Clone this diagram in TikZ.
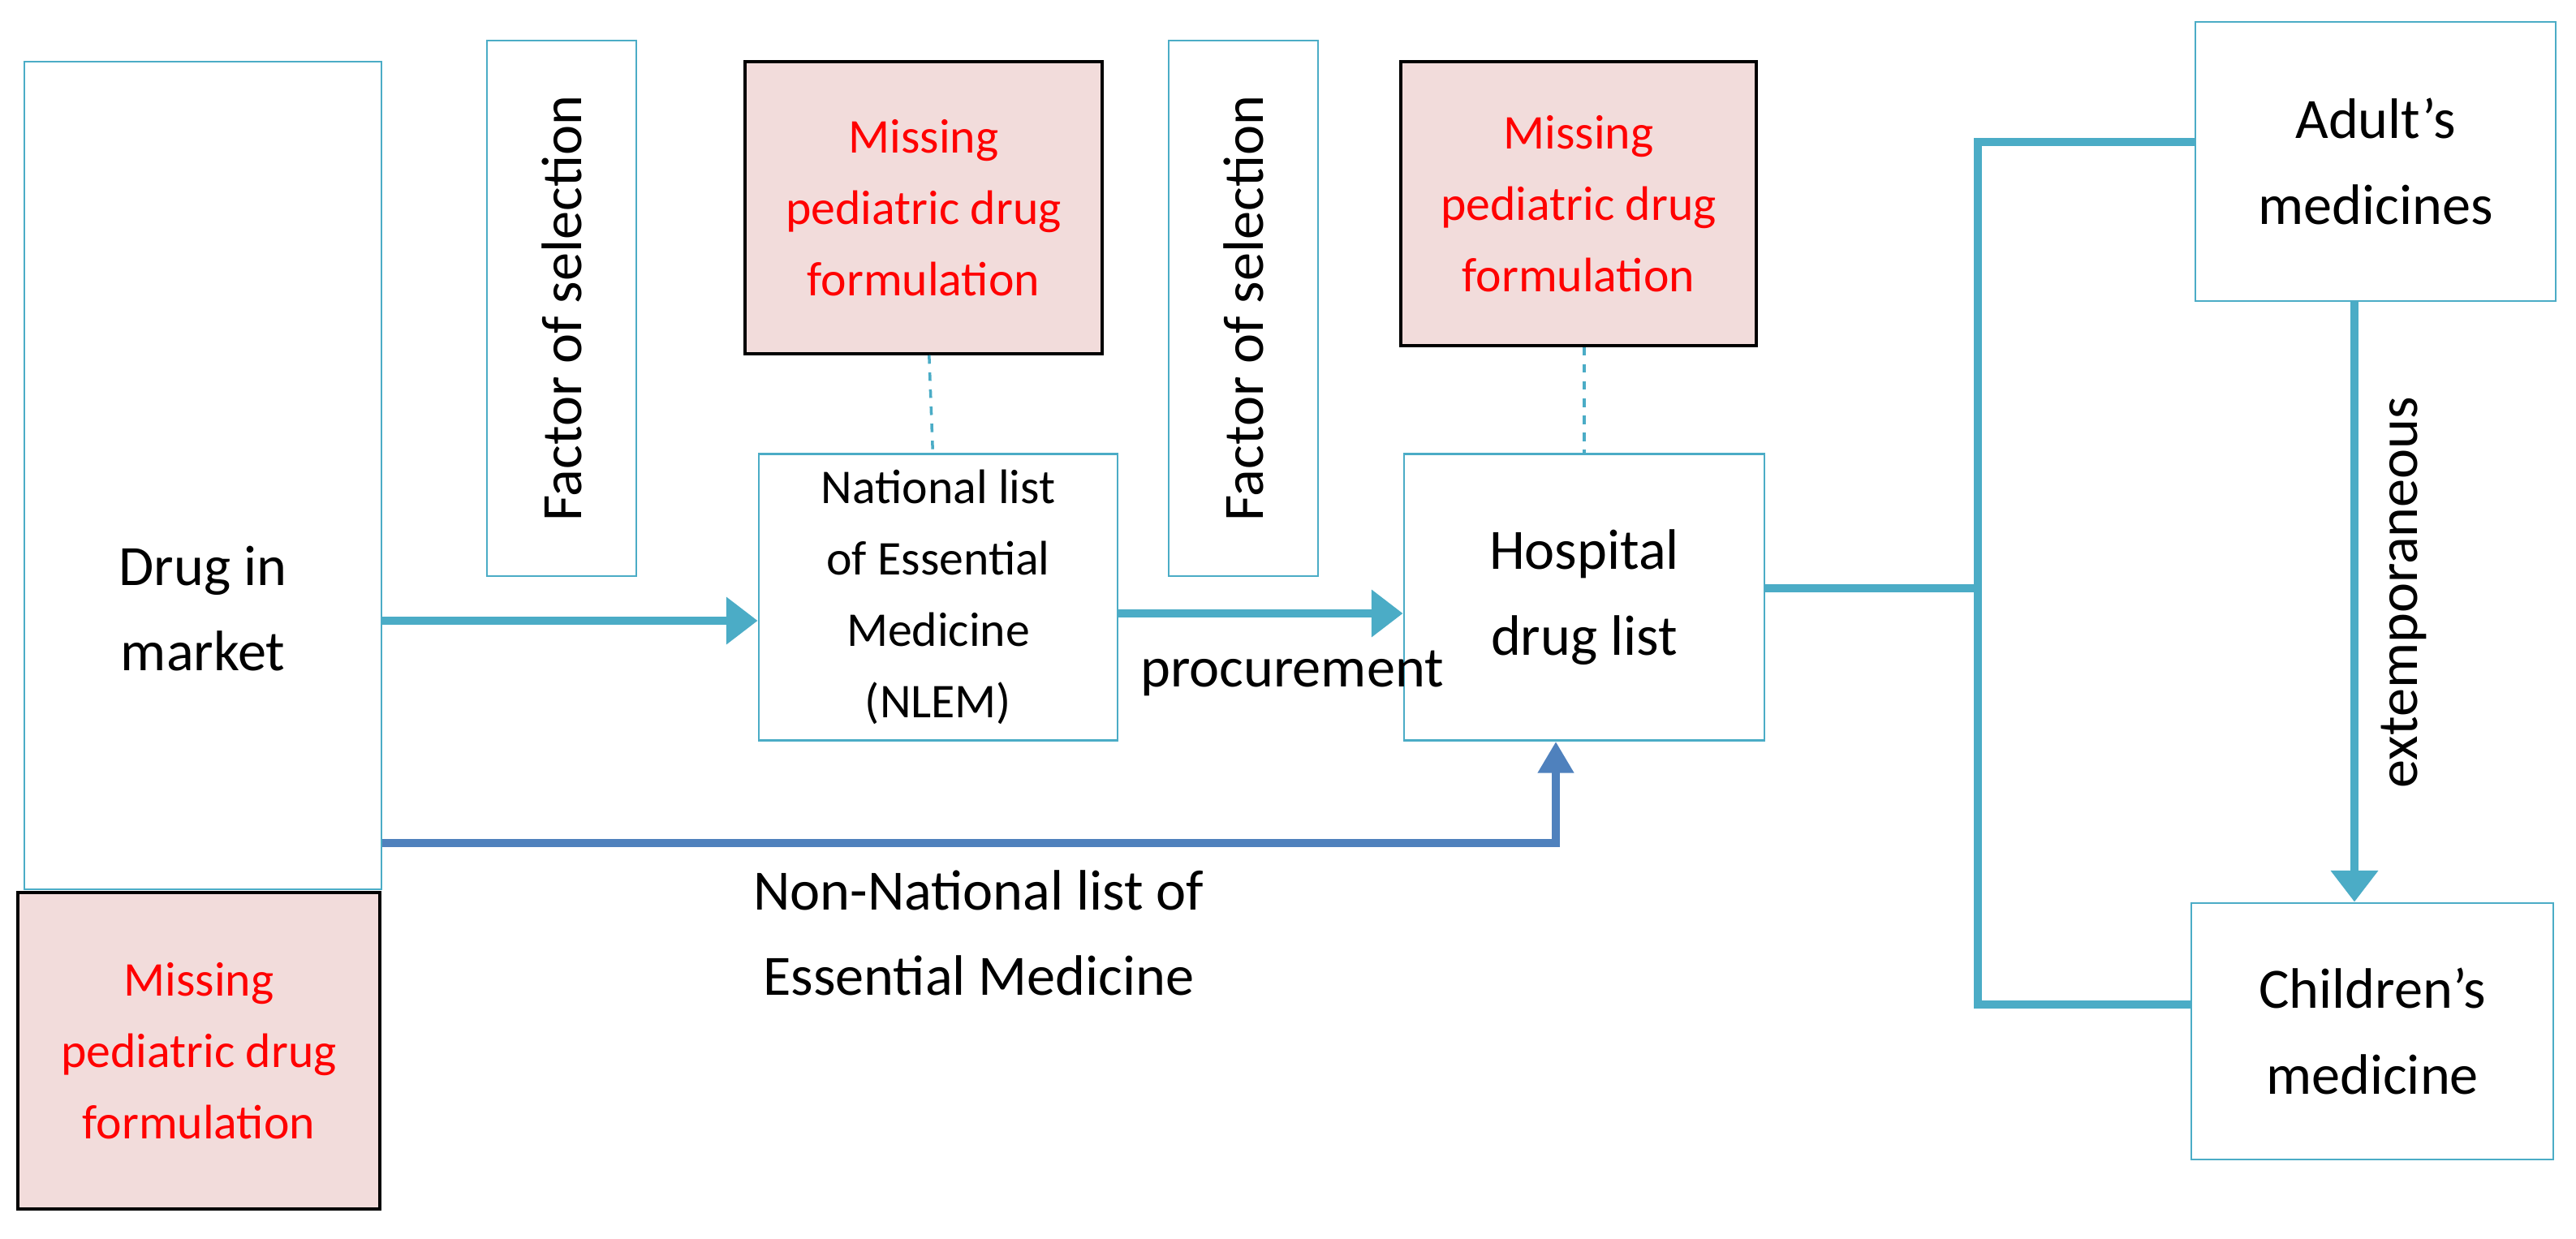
\documentclass[tikz,border=0pt]{standalone}
\usepackage{fontspec}
\setmainfont{Carlito}
\usetikzlibrary{arrows.meta,calc}
\definecolor{boxblue}{RGB}{75,172,198}
\definecolor{darkblue}{RGB}{79,129,189}
\definecolor{pinkfill}{RGB}{242,220,219}
\tikzset{
  plain/.style={draw=boxblue,line width=0.8pt,align=center,inner sep=2pt,
    font=\fontsize{20}{30}\selectfont},
  missing/.style={draw=black,line width=1pt,fill=pinkfill,text=red,align=center,
    minimum width=4.4cm,font=\fontsize{17}{25}\selectfont},
  flow/.style={-{Triangle[length=11pt,width=16pt]},line width=3pt,boxblue},
}
\begin{document}
\begin{tikzpicture}
  \useasboundingbox (0,0) rectangle (31.74,-15.27);

  % Left column
  \node[plain,minimum width=4.4cm,minimum height=10.2cm] (market) at (2.5,-5.86) {};
  \node[align=center,font=\fontsize{20}{30}\selectfont] (markettxt) at (2.5,-7.5) {Drug in\\market};
  \node[missing,minimum width=4.46cm,minimum height=3.9cm] (missL) at (2.45,-12.95) {Missing\\pediatric drug\\formulation};

  % Selection factors
  \node[plain,minimum width=1.84cm,minimum height=6.6cm] (facA) at (6.92,-3.8) {};
  \node[rotate=90,font=\fontsize{20}{24}\selectfont] at (facA) {Factor of selection};
  \node[plain,minimum width=1.84cm,minimum height=6.6cm] (facB) at (15.32,-3.8) {};
  \node[rotate=90,font=\fontsize{20}{24}\selectfont] at (facB) {Factor of selection};

  % Lists
  \node[missing,minimum height=3.6cm] (missA) at (11.38,-2.56) {Missing\\pediatric drug\\formulation};
  \node[plain,minimum width=4.42cm,minimum height=3.53cm,font=\fontsize{17}{25}\selectfont] (nlem) at (11.56,-7.36) {National list\\of Essential\\Medicine\\(NLEM)};
  \node[missing,minimum width=4.38cm,minimum height=3.5cm] (missB) at (19.45,-2.51) {Missing\\pediatric drug\\formulation};
  \node[plain,minimum width=4.44cm,minimum height=3.53cm] (hosp) at (19.52,-7.36) {Hospital\\drug list};

  % Right column
  \node[plain,minimum width=4.44cm,minimum height=3.44cm] (adult) at (29.27,-1.99) {Adult’s\\medicines};
  \node[plain,minimum width=4.46cm,minimum height=3.16cm] (child) at (29.23,-12.71) {Children’s\\medicine};

  % Connectors
  \draw[dashed,boxblue,line width=1pt] (missA) -- (nlem);
  \draw[dashed,boxblue,line width=1pt] (missB.south -| hosp) -- (hosp);
  \draw[flow] (market.east |- 0,-7.65) -- (nlem.west |- 0,-7.65);
  \draw[flow] (nlem.east |- 0,-7.56) -- (hosp.west |- 0,-7.56);
  \node[font=\fontsize{20}{24}\selectfont] (proc) at (15.92,-8.3) {procurement};
  \coordinate (corner) at (19.17,-10.39);
  \draw[-{Triangle[length=11pt,width=12pt]},line width=3pt,darkblue]
    (market.east |- corner) -- (corner) -- (hosp.south -| corner);
  \node[align=center,font=\fontsize{20}{30}\selectfont] (nonl) at (12.06,-11.5) {Non-National list of\\Essential Medicine};

  \coordinate (fork) at (24.37,-7.25);
  \draw[line width=3pt,boxblue] (hosp.east |- fork) -- (fork);
  \draw[line width=3pt,boxblue] (adult.west |- 0,-1.75) -| (24.37,-12.38) -- (child.west |- 0,-12.38);
  \draw[flow] (29.01,0 |- adult.south) -- (29.01,0 |- child.north);
  \node[rotate=90,font=\fontsize{20}{24}\selectfont] (extemp) at (29.62,-7.3) {extemporaneous};
\end{tikzpicture}
\end{document}
